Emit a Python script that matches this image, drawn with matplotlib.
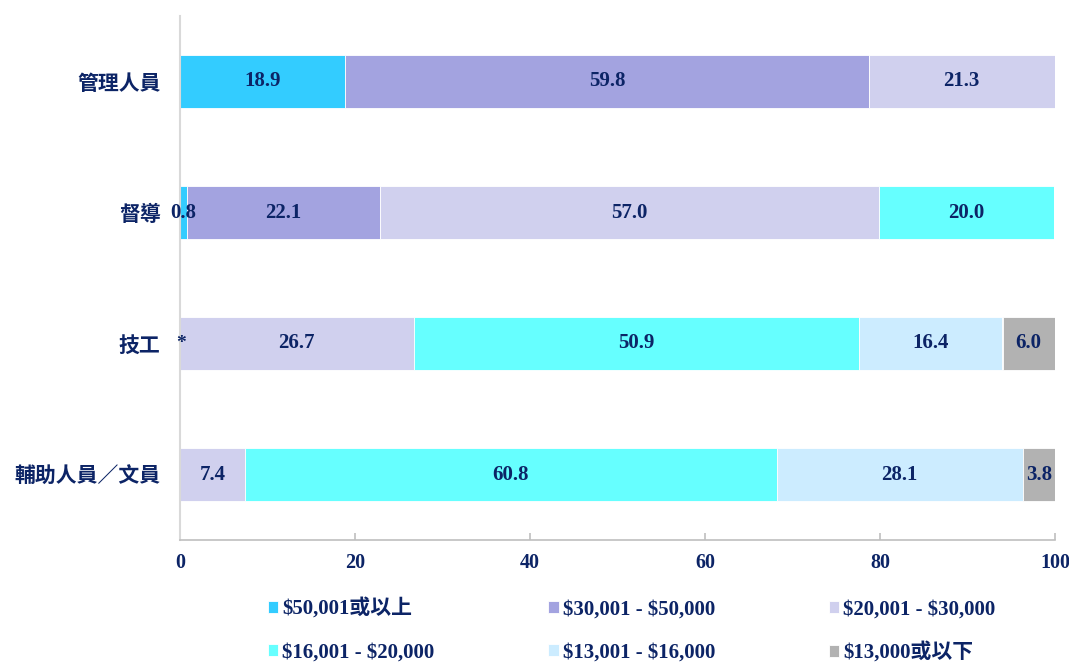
import matplotlib
matplotlib.use("Agg")
import matplotlib.pyplot as plt
import numpy as np

categories = ['管理人員', '督導', '技工', '輔助人員／文員']
series_names = ['$50,001或以上', '$30,001 - $50,000', '$20,001 - $30,000',
                '$16,001 - $20,000', '$13,001 - $16,000', '$13,000或以下']
s_50001_up = [18.9, 0.8, 0.0, 0.0]
s_30001_50000 = [59.8, 22.1, 0.0, 0.0]
s_20001_30000 = [21.3, 57.0, 26.7, 7.4]
s_16001_20000 = [0.0, 20.0, 50.9, 60.8]
s_13001_16000 = [0.0, 0.0, 16.4, 28.1]
s_13000_down = [0.0, 0.0, 6.0, 3.8]
# special marker labels (category, series index) -> text
special_labels = {('技工', 1): '*'}
xticks = [0, 20, 40, 60, 80, 100]

colors = ['#33CCFF', '#A3A3E0', '#D0D0EE', '#66FFFF', '#CCECFF', '#B2B2B2']
navy = '#0C2466'
num_font = ['Liberation Serif', 'Noto Sans CJK TC']
cjk_font = ['Noto Sans CJK TC', 'DejaVu Sans']
plt.rcParams['text.parse_math'] = False

series = [s_50001_up, s_30001_50000, s_20001_30000, s_16001_20000, s_13001_16000, s_13000_down]

fig = plt.figure(figsize=(10.69, 6.62), dpi=100)
ax = fig.add_axes([180/1069, 1-540/662, (1055-180)/1069, (540-16)/662])

y = np.arange(len(categories))
left = np.zeros(len(categories))
handles = []
for i, (vals, name, c) in enumerate(zip(series, series_names, colors)):
    vals = np.array(vals)
    b = ax.barh(y, vals, left=left, height=0.4, color=c, edgecolor='white',
                linewidth=0.6, label=name)
    handles.append(b)
    for j, v in enumerate(vals):
        key = (categories[j], i)
        if key in special_labels:
            ax.text(left[j] + v / 2 + 0.1, y[j], special_labels[key], ha='center', va='center',
                    fontsize=14, fontweight='bold', color=navy, family=num_font)
        elif v > 0:
            ax.text(left[j] + v / 2, y[j], f'{v:.1f}', ha='center', va='center',
                    fontsize=15, fontweight='bold', color=navy, family=num_font)
    left = left + vals

ax.set_ylim(len(categories) - 0.5, -0.5)
ax.set_xlim(0, 100)
ax.set_yticks(y)
ax.set_yticklabels(categories, family=cjk_font, fontsize=15, fontweight='bold', color=navy)
ax.tick_params(axis='y', length=0, pad=14)
ax.set_xticks(xticks)
ax.set_xticklabels([str(t) for t in xticks], family=num_font, fontsize=14.5,
                   fontweight='bold', color=navy)
ax.tick_params(axis='x', direction='in', length=5, color='#BFBFBF', width=1.2, pad=9)
for s in ['top', 'right']:
    ax.spines[s].set_visible(False)
ax.spines['left'].set_color('#D9D9D9')
ax.spines['left'].set_linewidth(1.5)
ax.spines['bottom'].set_color('#BFBFBF')
ax.spines['bottom'].set_linewidth(1.2)

order = [0, 3, 1, 4, 2, 5]
leg = fig.legend([handles[k] for k in order], [series_names[k] for k in order],
                 ncol=3, loc='upper left', bbox_to_anchor=(249/1069, 1-580/662),
                 frameon=False, handlelength=0.5, handleheight=0.5, handletextpad=0.2,
                 columnspacing=5.45, labelspacing=1.1,
                 prop={'family': num_font, 'weight': 'bold', 'size': 15})
for t in leg.get_texts():
    t.set_color(navy)

fig.savefig('out.png', dpi=100)
